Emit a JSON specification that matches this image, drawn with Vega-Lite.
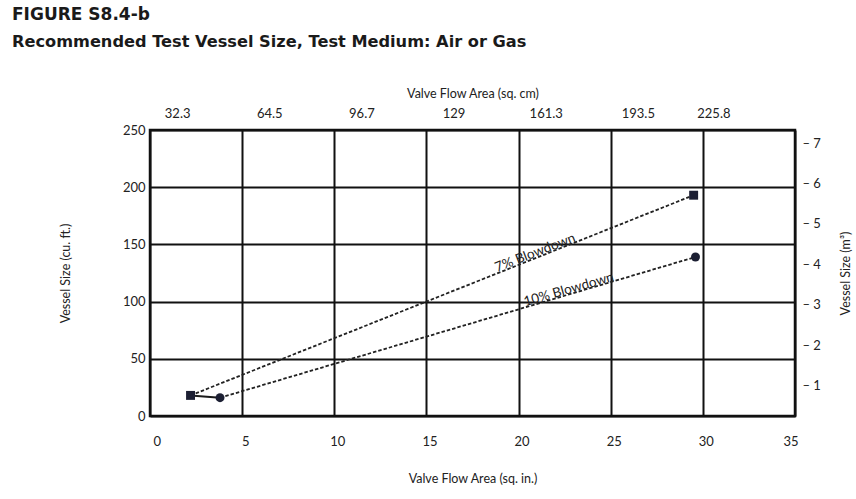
{
  "$schema": "https://vega.github.io/schema/vega-lite/v6.json",
  "width": 645,
  "height": 286,
  "autosize": "none",
  "padding": {"left": 150, "top": 130, "right": 61, "bottom": 83},
  "background": "white",
  "title": {
    "text": "FIGURE S8.4-b",
    "subtitle": "Recommended Test Vessel Size, Test Medium: Air or Gas",
    "anchor": "start",
    "frame": "group",
    "dx": -138,
    "offset": 36,
    "font": "DejaVu Sans",
    "fontSize": 17,
    "fontWeight": "bold",
    "color": "#1a1a1a",
    "subtitleFont": "DejaVu Sans",
    "subtitleFontSize": 16.2,
    "subtitleFontWeight": "bold",
    "subtitleColor": "#1a1a1a",
    "subtitlePadding": 10
  },
  "config": {
    "view": {"stroke": "#111", "strokeWidth": 2.5},
    "axis": {
      "domain": false,
      "ticks": false,
      "labelFont": "Lato",
      "labelFontSize": 13,
      "labelColor": "#222",
      "titleFont": "Lato",
      "titleFontSize": 12.5,
      "titleFontWeight": "normal",
      "titleColor": "#222"
    }
  },
  "datasets": {
    "series": [
      {"series": "7% Blowdown", "area": 2.2, "vessel": 18},
      {"series": "7% Blowdown", "area": 29.5, "vessel": 193},
      {"series": "10% Blowdown", "area": 3.8, "vessel": 16},
      {"series": "10% Blowdown", "area": 29.6, "vessel": 139}
    ],
    "labels": [
      {"series": "7% Blowdown", "area": 21.0, "vessel": 138.5},
      {"series": "10% Blowdown", "area": 22.8, "vessel": 106.3}
    ]
  },
  "layer": [
    {
      "data": {"name": "series"},
      "mark": {"type": "line", "strokeDash": [3.5, 2], "strokeWidth": 1.8, "color": "#222"},
      "encoding": {
        "x": {
          "field": "area", "type": "quantitative",
          "scale": {"domain": [0, 35], "nice": false},
          "axis": {
            "orient": "bottom",
            "values": [0, 5, 10, 15, 20, 25, 30, 35],
            "grid": true, "gridColor": "#111", "gridWidth": 2, "gridOpacity": 1,
            "labelPadding": 19, "labelOffset": 3,
            "title": "Valve Flow Area (sq. in.)", "titlePadding": 24
          }
        },
        "y": {
          "field": "vessel", "type": "quantitative",
          "scale": {"domain": [0, 250], "nice": false},
          "axis": {
            "orient": "left",
            "values": [0, 50, 100, 150, 200, 250],
            "grid": true, "gridColor": "#111", "gridWidth": 2, "gridOpacity": 1,
            "labelPadding": 5,
            "title": "Vessel Size (cu. ft.)", "titlePadding": 50
          }
        },
        "detail": {"field": "series"}
      }
    },
    {
      "data": {"name": "series"},
      "transform": [{"filter": "datum.area < 5"}],
      "mark": {"type": "line", "strokeWidth": 2, "color": "#1a1a1a"},
      "encoding": {
        "x": {"field": "area", "type": "quantitative", "axis": null},
        "y": {"field": "vessel", "type": "quantitative", "axis": null}
      }
    },
    {
      "data": {"name": "series"},
      "mark": {"type": "point", "filled": true, "opacity": 1, "size": 80, "color": "#1c1f33"},
      "encoding": {
        "x": {
          "field": "area", "type": "quantitative",
          "axis": {
            "orient": "top",
            "values": [5, 10, 15, 20, 25, 30, 35],
            "labelExpr": "datum.value == 15 ? '96.7' : format(datum.value * 6.4516, '.1~f')",
            "labelOffset": -65,
            "labelPadding": 10,
            "grid": false,
            "title": "Valve Flow Area (sq. cm)", "titlePadding": 7
          }
        },
        "y": {
          "field": "vessel", "type": "quantitative",
          "axis": {
            "orient": "right",
            "values": [35.315, 70.63, 105.945, 141.26, 176.575, 211.89, 247.205],
            "labelExpr": "'– ' + format(datum.value / 35.315, 'd')",
            "labelOffset": 10,
            "labelPadding": 7,
            "grid": false,
            "title": "Vessel Size (m³)", "titleAngle": 270, "titlePadding": 32
          }
        },
        "shape": {
          "field": "series", "type": "nominal",
          "scale": {"domain": ["7% Blowdown", "10% Blowdown"], "range": ["square", "circle"]},
          "legend": null
        }
      }
    },
    {
      "data": {"name": "labels"},
      "transform": [{"filter": "datum.series == '7% Blowdown'"}],
      "mark": {"type": "text", "angle": -21.3, "baseline": "bottom", "dy": 2, "font": "Lato", "fontSize": 13.5, "color": "#222"},
      "encoding": {
        "x": {"field": "area", "type": "quantitative", "axis": null},
        "y": {"field": "vessel", "type": "quantitative", "axis": null},
        "text": {"field": "series"}
      }
    },
    {
      "data": {"name": "labels"},
      "transform": [{"filter": "datum.series == '10% Blowdown'"}],
      "mark": {"type": "text", "angle": -16, "baseline": "bottom", "dy": 2, "font": "Lato", "fontSize": 13.5, "color": "#222"},
      "encoding": {
        "x": {"field": "area", "type": "quantitative", "axis": null},
        "y": {"field": "vessel", "type": "quantitative", "axis": null},
        "text": {"field": "series"}
      }
    }
  ],
  "resolve": {"axis": {"x": "independent", "y": "independent"}}
}
